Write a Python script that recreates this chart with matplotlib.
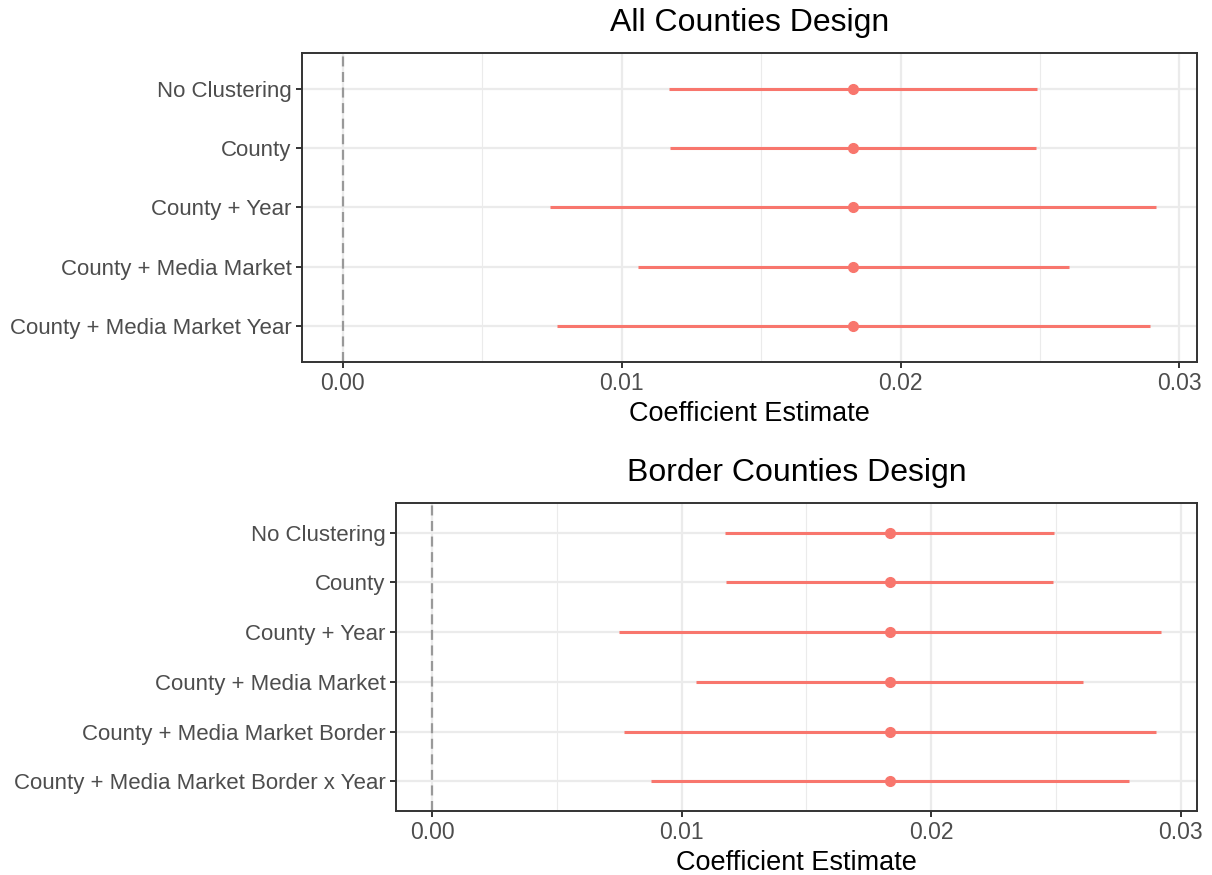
import matplotlib
matplotlib.use("Agg")
import matplotlib.pyplot as plt
from matplotlib.ticker import FixedLocator

plt.rcParams['font.family'] = ['Liberation Sans', 'DejaVu Sans']

# All Counties Design
all_labels = ["No Clustering", "County", "County + Year",
              "County + Media Market", "County + Media Market Year"]
all_est = [0.0183, 0.0183, 0.0183, 0.0183, 0.0183]
all_lo = [0.01170, 0.01173, 0.00743, 0.01058, 0.00768]
all_hi = [0.02490, 0.02487, 0.02917, 0.02605, 0.02896]

# Border Counties Design
bor_labels = ["No Clustering", "County", "County + Year",
              "County + Media Market", "County + Media Market Border",
              "County + Media Market Border x Year"]
bor_est = [0.01834, 0.01834, 0.01834, 0.01834, 0.01834, 0.01834]
bor_lo = [0.01175, 0.01178, 0.00747, 0.01059, 0.00767, 0.00875]
bor_hi = [0.02493, 0.02490, 0.02920, 0.02609, 0.02901, 0.02793]

xticks = [0.0, 0.01, 0.02, 0.03]
xticklabels = ["0.00", "0.01", "0.02", "0.03"]

W, H = 1212, 875
fig = plt.figure(figsize=(W / 100, H / 100), dpi=100)

RED = "#F8766D"


def panel(rect, labels, est, lo, hi, title):
    l, t, r, b = rect
    ax = fig.add_axes([l / W, (H - b) / H, (r - l) / W, (b - t) / H])
    n = len(labels)
    ys = list(range(n, 0, -1))
    ax.axvline(0, color="#999999", lw=1.6, ls=(0, (4.5, 2.5)), zorder=2)
    ax.hlines(ys, lo, hi, color=RED, lw=2.2, zorder=3)
    ax.plot(est, ys, "o", color=RED, ms=7, zorder=4)
    ax.set_ylim(0.4, n + 0.6)
    lo_all = min(min(lo), 0)
    hi_all = max(hi)
    pad = (hi_all - lo_all) * 0.05
    ax.set_xlim(lo_all - pad, hi_all + pad)
    ax.set_yticks(ys)
    ax.set_yticklabels(labels)
    ax.xaxis.set_major_locator(FixedLocator(xticks))
    ax.set_xticklabels(xticklabels)
    ax.xaxis.set_minor_locator(FixedLocator([-0.005, 0.005, 0.015, 0.025]))
    ax.grid(which="major", color="#EBEBEB", lw=1.6, zorder=0)
    ax.grid(which="minor", axis="x", color="#EBEBEB", lw=0.8, zorder=0)
    ax.set_axisbelow(True)
    ax.tick_params(which="major", length=4.5, width=1.4, color="#333333",
                   labelcolor="#4D4D4D", labelsize=16, pad=3)
    ax.tick_params(axis="x", labelsize=16.5)
    ax.tick_params(which="minor", length=0)
    for s in ax.spines.values():
        s.set_color("#333333")
        s.set_linewidth(1.4)
    ax.set_xlabel("Coefficient Estimate", fontsize=19.5, color="black", labelpad=4)
    ax.set_title(title, fontsize=23, color="black", pad=16)
    return ax


panel((302, 53, 1197, 362), all_labels, all_est, all_lo, all_hi, "All Counties Design")
panel((396, 503, 1197, 811), bor_labels, bor_est, bor_lo, bor_hi, "Border Counties Design")

fig.savefig("out.png", dpi=100)
